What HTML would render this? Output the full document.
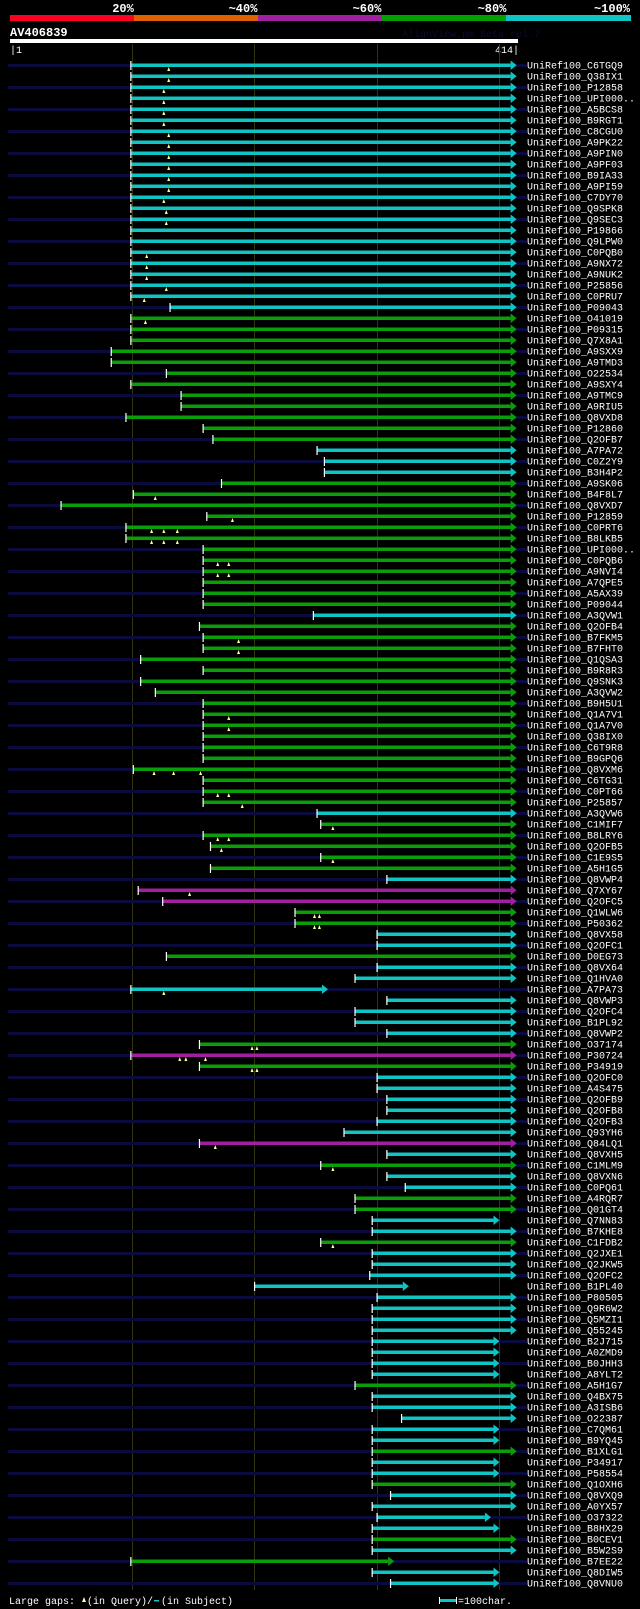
<!DOCTYPE html>
<html><head><meta charset="utf-8">
<style>
html,body{margin:0;padding:0;background:#000;}
svg{display:block;}
text{font-family:"Liberation Mono","DejaVu Sans Mono",monospace;}
</style></head>
<body>
<svg id="chart" width="640" height="1609" viewBox="0 0 640 1609" xmlns="http://www.w3.org/2000/svg">
<rect x="0" y="0" width="640" height="1609" fill="#000"/>
<g>
<rect x="10" y="15" width="124" height="6" fill="#ff0022"/>
<rect x="134" y="15" width="124" height="6" fill="#e06000"/>
<rect x="258" y="15" width="124" height="6" fill="#a020a0"/>
<rect x="382" y="15" width="124" height="6" fill="#00a000"/>
<rect x="506" y="15" width="125" height="6" fill="#10c4c4"/>
<g font-size="12" font-weight="bold" fill="#fff" text-anchor="middle">
<text x="123" y="12">20%</text>
<text x="243" y="12">~40%</text>
<text x="367" y="12">~60%</text>
<text x="492" y="12">~80%</text>
<text x="612" y="12">~100%</text>
</g>
</g>
<text x="10" y="36" font-size="12" font-weight="bold" fill="#fff">AV406839</text>
<text x="402" y="37" font-size="10" fill="#0c0c30">AlignView.pm Beta rel.7</text>
<rect x="10" y="39" width="508" height="4" fill="#fff"/>
<text x="10" y="53" font-size="10" fill="#fff">|1</text>
<text x="519" y="53" font-size="10" fill="#fff" text-anchor="end">414|</text>
<g id="grid"></g>
<g id="rows"></g>
<g>
<text x="9" y="1604" font-size="10" fill="#fff">Large gaps:</text>
<polygon points="82,1602 84,1597 86,1602" fill="#ffff99"/>
<text x="87" y="1604" font-size="10" fill="#fff">(in Query)/</text>
<rect x="154" y="1600" width="5" height="1.5" fill="#10c4c4"/>
<text x="161" y="1604" font-size="10" fill="#fff">(in Subject)</text>
<rect x="439" y="1597" width="1" height="7" fill="#fff"/>
<rect x="440" y="1599" width="16" height="3" fill="#10c4c4"/>
<rect x="456" y="1597" width="1" height="7" fill="#fff"/>
<text x="458" y="1604" font-size="10" fill="#fff">=100char.</text>
</g>
</svg>
<script>
const names = ["C6TGQ9","Q38IX1","P12858","UPI000..","A5BCS8","B9RGT1","C8CGU0","A9PK22","A9PIN0","A9PF03","B9IA33","A9PI59","C7DY70","Q9SPK8","Q9SEC3","P19866","Q9LPW0","C0PQB0","A9NX72","A9NUK2","P25856","C0PRU7","P09043","O41019","P09315","Q7X8A1","A9SXX9","A9TMD3","O22534","A9SXY4","A9TMC9","A9RIU5","Q8VXD8","P12860","Q2OFB7","A7PA72","C0Z2Y9","B3H4P2","A9SK06","B4F8L7","Q8VXD7","P12859","C0PRT6","B8LKB5","UPI000..","C0PQB6","A9NVI4","A7QPE5","A5AX39","P09044","A3QVW1","Q2OFB4","B7FKM5","B7FHT0","Q1QSA3","B9R8R3","Q9SNK3","A3QVW2","B9H5U1","Q1A7V1","Q1A7V0","Q38IX0","C6T9R8","B9GPQ6","Q8VXM6","C6TG31","C0PT66","P25857","A3QVW6","C1MIF7","B8LRY6","Q2OFB5","C1E9S5","A5H1G5","Q8VWP4","Q7XY67","Q2OFC5","Q1WLW6","P50362","Q8VX58","Q2OFC1","D0EG73","Q8VX64","Q1HVA0","A7PA73","Q8VWP3","Q2OFC4","B1PL92","Q8VWP2","O37174","P30724","P34919","Q2OFC0","A4S475","Q2OFB9","Q2OFB8","Q2OFB3","Q93YH6","Q84LQ1","Q8VXH5","C1MLM9","Q8VXN6","C0PQ61","A4RQR7","Q01GT4","Q7NN83","B7KHE8","C1FDB2","Q2JXE1","Q2JKW5","Q2OFC2","B1PL40","P80505","Q9R6W2","Q5MZI1","Q55245","B2J715","A0ZMD9","B0JHH3","A8YLT2","A5H1G7","Q4BX75","A3ISB6","O22387","C7QM61","B9YQ45","B1XLG1","P34917","P58554","Q1OXH6","Q8VXQ9","A0YX57","O37322","B8HX29","B0CEV1","B5W2S9","B7EE22","Q8DIW5","Q8VNU0"];
const starts = [99,99,99,99,99,99,99,99,99,99,99,99,99,99,99,99,99,99,99,99,99,99,131,99,99,99,83,83,128,99,140,140,95,158,166,251,257,257,173,101,42,161,95,95,158,158,158,158,158,158,248,155,158,158,107,158,107,119,158,158,158,158,158,158,101,158,158,158,251,254,158,164,254,164,308,105,125,233,233,300,300,128,300,282,99,308,282,282,308,155,99,155,300,300,308,308,300,273,155,308,254,308,323,282,282,296,296,254,296,296,294,200,300,296,296,296,296,296,296,296,282,296,296,320,296,296,296,296,296,296,311,296,300,296,296,296,99,296,311];
const ends = [414,414,414,414,414,414,414,414,414,414,414,414,414,414,414,414,414,414,414,414,414,414,414,414,414,414,414,414,414,414,414,414,414,414,414,414,414,414,414,414,414,414,414,414,414,414,414,414,414,414,414,414,414,414,414,414,414,414,414,414,414,414,414,414,414,414,414,414,414,414,414,414,414,414,414,414,414,414,414,414,414,414,414,414,260,414,414,414,414,414,414,414,414,414,414,414,414,414,414,414,414,414,414,414,414,400,414,414,414,414,414,326,414,414,414,414,400,400,400,400,414,414,414,414,400,400,414,400,400,414,414,414,393,400,414,414,314,400,400];
const colorGroups = ["ccccccccccccccccccccccc","gggggggggggg","ccc","gggggggggggg","c","ggggggggggggggggg","c","ggggg","c","pp","gg","cc","g","ccccccc","g","p","g","cccccc","p","c","g","cc","gg","cc","g","cccccccccccc","g","ccccc","g","cc","g","cccc","g","c","g","cc"];
const gaps = [[130],[130],[126],[126],[126],[126],[130],[130],[130],[130],[130],[130],[126],[128],[128],[],[],[112],[112],[112],[128],[110],[],[111],[],[],[],[],[],[],[],[],[],[],[],[],[],[],[],[119],[],[182],[116,126,137],[116,126,137],[],[170,179],[170,179],[],[],[],[],[],[187],[187],[],[],[],[],[],[179],[179],[],[],[],[118,134,156],[],[170,179],[190],[],[264],[170,179],[173],[264],[],[],[147],[],[249,253],[249,253],[],[],[],[],[],[126],[],[],[],[],[198,202],[139,144,160],[198,202],[],[],[],[],[],[],[168],[],[264],[],[],[],[],[],[],[264],[],[],[],[],[],[],[],[],[],[],[],[],[],[],[],[],[],[],[],[],[],[],[],[],[],[],[],[],[],[],[],[],[],[]];
const gridTicks = [100,200,300,400];

const colorCodes = colorGroups.join("");
const NS = "http://www.w3.org/2000/svg";
const COLORS = {c:"#10c4c4", g:"#0a9e0a", p:"#a020a0"};
function xScale(r){ return 10.7 + (r-1)*1.225; }
function yRow(i){ return 65 + 11*i; }
function mk(tag, attrs){ const e=document.createElementNS(NS,tag); for(const k in attrs) e.setAttribute(k, attrs[k]); return e; }

const grid = document.getElementById("grid");
gridTicks.forEach(t=>{
  const l = mk("rect",{x:Math.round(xScale(t)),y:44,width:1,height:1546,fill:"#333310"});
  
  
  grid.appendChild(l);
});

const rows = document.getElementById("rows");
names.forEach((n,i)=>{
  const y = yRow(i);
  const g = mk("g",{});
  
  
  if(i%2===0){
    const q = mk("rect",{x:8,y:y-1,width:519,height:3,fill:"#0a0a3c"});
    
    
    g.appendChild(q);
  }
  const col = COLORS[colorCodes[i]] || COLORS.c;
  const x0 = xScale(starts[i]), x1 = xScale(ends[i]);
  const bar = mk("rect",{x:x0,y:y-1.5,width:Math.max(0,x1-6-x0),height:3.5,fill:col});
  
  
  g.appendChild(bar);
  const arr = mk("polygon",{points:(x1-6)+","+(y-4.5)+" "+x1+","+(y+0.25)+" "+(x1-6)+","+(y+5), fill:col});
  
  
  g.appendChild(arr);
  const tick = mk("rect",{x:x0-0.5,y:y-4,width:1.2,height:9,fill:"#fff"});
  
  
  g.appendChild(tick);
  gaps[i].forEach(p=>{
    const gx = xScale(p);
    const m = mk("polygon",{points:(gx-1.5)+","+(y+6)+" "+gx+","+(y+2)+" "+(gx+1.5)+","+(y+6), fill:"#ffff99"});
    
    
    g.appendChild(m);
  });
  const t = mk("text",{x:527,y:y+3.5,"font-size":10,fill:"#fff"});
  t.textContent = "UniRef100_" + n;
  
  
  g.appendChild(t);
  rows.appendChild(g);
});
</script>
</body></html>
